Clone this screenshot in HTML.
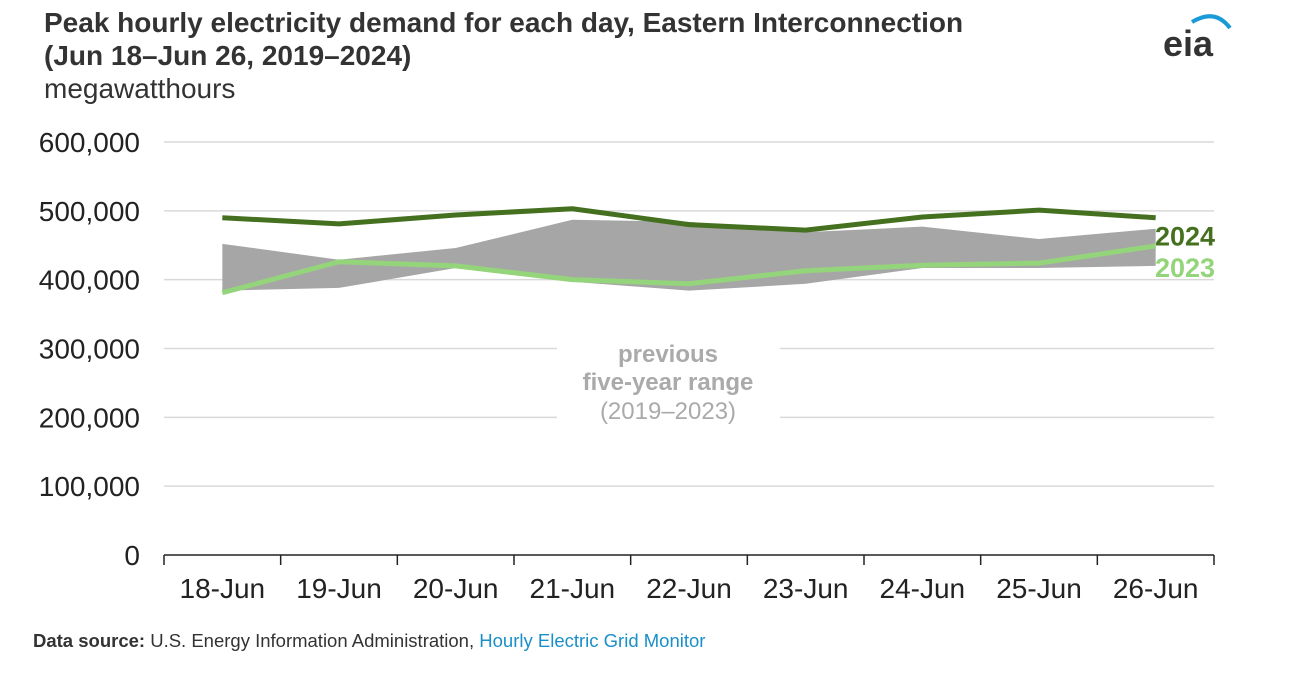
<!DOCTYPE html>
<html><head><meta charset="utf-8"><style>
body{margin:0;background:#fff;font-family:"Liberation Sans",Arial,sans-serif;}
#wrap{position:relative;width:1292px;height:682px;overflow:hidden;}
</style></head><body>
<div id="wrap">
<svg id="svg" width="1292" height="682" style="position:absolute;left:0;top:0">
<text x="44" y="32" font-size="28" font-weight="bold" fill="#333">Peak hourly electricity demand for each day, Eastern Interconnection</text>
<text x="44" y="65" font-size="28" font-weight="bold" fill="#333">(Jun 18–Jun 26, 2019–2024)</text>
<text x="44" y="98" font-size="28" fill="#333">megawatthours</text>
<g>
<text x="1163" y="56" font-size="36" font-weight="bold" fill="#333">eia</text>
<path d="M1192 22 Q1215 8 1230 28" stroke="#1a9ad6" stroke-width="4" fill="none"/>
</g>
<g id="grid"></g>
<g id="marks"></g>
<g>
<rect x="557" y="335" width="223" height="100" fill="#fff"/>
<text x="668" y="362" font-size="24" font-weight="bold" fill="#aaa" text-anchor="middle">previous</text>
<text x="668" y="390" font-size="24" font-weight="bold" fill="#aaa" text-anchor="middle">five-year range</text>
<text x="668" y="419" font-size="24" fill="#aaa" text-anchor="middle">(2019–2023)</text>
</g>
<text x="33" y="647" font-size="18.5" fill="#333"><tspan font-weight="bold">Data source:</tspan> U.S. Energy Information Administration, <tspan fill="#1a8fc9">Hourly Electric Grid Monitor</tspan></text>
</svg>
</div>
<script>
const categories=["18-Jun","19-Jun","20-Jun","21-Jun","22-Jun","23-Jun","24-Jun","25-Jun","26-Jun"];
const s2024=[490000,481000,494000,503000,480000,472000,491000,501000,490000];
const s2023=[381000,426000,420000,400000,394000,413000,421000,424000,449000];
const rangeMax=[452000,429000,446000,487000,484000,469000,477000,459000,474000];
const rangeMin=[384000,388000,417000,397000,384000,394000,417000,417000,420000];
const yTicks=[0,100000,200000,300000,400000,500000,600000];
const yTickLabels=["0","100,000","200,000","300,000","400,000","500,000","600,000"];
const NS="http://www.w3.org/2000/svg";
const x0=164,x1=1214,yb=555,yt=142;
const step=(x1-x0)/categories.length;
const X=i=>x0+step*(i+0.5);
const Y=v=>yb-(v/600000)*(yb-yt);
function mk(tag,attrs,parent){const e=document.createElementNS(NS,tag);for(const k in attrs)e.setAttribute(k,attrs[k]);parent.appendChild(e);return e;}
const grid=document.getElementById('grid'),marks=document.getElementById('marks');
yTicks.forEach((t,i)=>{
 if(t>0){const g=mk('line',{x1:x0,x2:x1,y1:Y(t),y2:Y(t),stroke:'#d9d9d9','stroke-width':1.5},grid);
 
 }
 const l=mk('text',{x:140,y:Y(t)+10,'font-size':28,'text-anchor':'end',fill:'#222'},grid);
 l.textContent=yTickLabels[i];
 
 
});
const ax=mk('line',{x1:x0,x2:x1,y1:yb,y2:yb,stroke:'#222','stroke-width':1.5},grid);


for(let i=0;i<=categories.length;i++){mk('line',{x1:x0+step*i,x2:x0+step*i,y1:yb,y2:yb+10,stroke:'#222','stroke-width':1.5},grid);}
categories.forEach((c,i)=>{const t=mk('text',{x:X(i),y:598,'font-size':28,'text-anchor':'middle',fill:'#222'},grid);
 t.textContent=c;
 
 });
let pts=rangeMax.map((v,i)=>X(i)+','+Y(v)).concat(rangeMin.map((v,i)=>X(i)+','+Y(v)).reverse());
const area=mk('polygon',{points:pts.join(' '),fill:'#a6a6a6'},marks);


const l23=mk('polyline',{points:s2023.map((v,i)=>X(i)+','+Y(v)).join(' '),fill:'none',stroke:'#94d47a','stroke-width':5,'stroke-linejoin':'round'},marks);


const l24=mk('polyline',{points:s2024.map((v,i)=>X(i)+','+Y(v)).join(' '),fill:'none',stroke:'#44701f','stroke-width':5,'stroke-linejoin':'round'},marks);


const n=categories.length-1;
const t24=mk('text',{x:1155,y:Y(s2024[n])+28,'font-size':27,'font-weight':'bold',fill:'#44701f'},marks);
t24.textContent='2024';


const t23=mk('text',{x:1155,y:Y(s2023[n])+31,'font-size':27,'font-weight':'bold',fill:'#94d47a'},marks);
t23.textContent='2023';


</script>
</body></html>
